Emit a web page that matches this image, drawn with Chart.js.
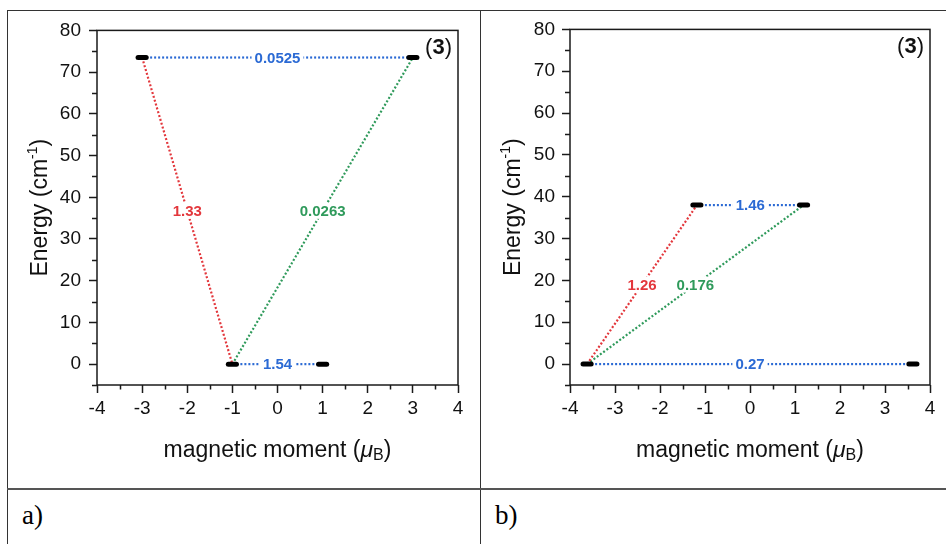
<!DOCTYPE html>
<html>
<head>
  <title>Relaxation barrier (3)</title>
  <script src="https://cdn.jsdelivr.net/npm/chart.js@4"></script>
  <style>
    body { margin: 0; background: #fff; }
    .rule { position: absolute; background: #333; }
    .cap {
      position: absolute;
      font-family: "Liberation Serif", "Times New Roman", serif;
      font-size: 27px;
      line-height: 30px;
      color: #000;
    }
    canvas { position: absolute; }
  </style>
</head>
<body>
  <div class="rule" style="left:7px; top:10px; width:939px; height:1px;"></div>
  <div class="rule" style="left:7px; top:10px; width:1px; height:534px;"></div>
  <div class="rule" style="left:480px; top:10px; width:1px; height:534px;"></div>
  <div class="rule" style="left:7px; top:488px; width:939px; height:2px; background:#555;"></div>
  <div class="cap" style="left:22px; top:500px;">a)</div>
  <div class="cap" style="left:495px; top:500px;">b)</div>

  <canvas id="chartA" width="472" height="477" style="left:8px; top:11px;"></canvas>
  <canvas id="chartB" width="464" height="477" style="left:482px; top:11px;"></canvas>

  <script>
    // axes
    const xTicks = [-4, -3, -2, -1, 0, 1, 2, 3, 4];
    const yTicks = [0, 10, 20, 30, 40, 50, 60, 70, 80];
    const yMin = -5;

    // panel a: doublet levels (moment, energy) and transitions between them
    const aMoment = [-3, 3, -1, 1];
    const aEnergy = [73.5, 73.5, 0, 0];
    const aFrom = [0, 2, 0, 2];
    const aTo = [1, 3, 2, 1];
    const aValue = ['0.0525', '1.54', '1.33', '0.0263'];
    const aKind = ['qtm', 'qtm', 'orbach', 'raman'];

    // panel b
    const bMoment = [-3.62, 3.62, -1.18, 1.19];
    const bEnergy = [0, 0, 38, 38];
    const bFrom = [0, 2, 0, 0];
    const bTo = [1, 3, 2, 3];
    const bValue = ['0.27', '1.46', '1.26', '0.176'];
    const bKind = ['qtm', 'qtm', 'orbach', 'raman'];

    const FONT = '"Liberation Sans", Arial, sans-serif';
    const kindColor = { qtm: '#2b6ad4', orbach: '#e3373c', raman: '#2f9a5b' };
    const BAR_HALF = 0.09;

    // draw a run of text pieces with their own fonts and vertical offsets
    function drawParts(ctx, parts, x, y) {
      ctx.textBaseline = 'middle';
      ctx.textAlign = 'left';
      for (const p of parts) {
        ctx.font = p[1];
        ctx.fillText(p[0], x, y + (p[2] || 0));
        x += ctx.measureText(p[0]).width;
      }
    }
    function partsWidth(ctx, parts) {
      let w = 0;
      for (const p of parts) { ctx.font = p[1]; w += ctx.measureText(p[0]).width; }
      return w;
    }

    function makePanel(id, moment, energy, from, to, value, kind, axisW, padRight, tickPad) {
      const levelSets = moment.map((m, i) => ({
        data: [{ x: m - BAR_HALF, y: energy[i] }, { x: m + BAR_HALF, y: energy[i] }],
        borderColor: '#000', borderWidth: 5, borderCapStyle: 'round',
        showLine: true, pointRadius: 0
      }));
      const transSets = from.map((f, i) => ({
        data: [{ x: moment[f], y: energy[f] }, { x: moment[to[i]], y: energy[to[i]] }],
        borderColor: kindColor[kind[i]], borderWidth: 2.2, borderDash: [2, 2],
        showLine: true, pointRadius: 0
      }));

      const decor = {
        id: 'decor',
        afterDatasetsDraw(chart) {
          const ctx = chart.ctx;
          const xs = chart.scales.x, ys = chart.scales.y;
          ctx.save();
          ctx.font = 'bold 15px ' + FONT;
          ctx.textAlign = 'center';
          ctx.textBaseline = 'middle';
          from.forEach((f, i) => {
            const t = to[i];
            const px = xs.getPixelForValue((moment[f] + moment[t]) / 2);
            const py = ys.getPixelForValue((energy[f] + energy[t]) / 2);
            const w = ctx.measureText(value[i]).width;
            ctx.fillStyle = '#fff';
            ctx.fillRect(px - w / 2 - 3, py - 8, w + 6, 16);
            ctx.fillStyle = kindColor[kind[i]];
            ctx.fillText(value[i], px, py + 1);
          });
          ctx.restore();
        },
        afterDraw(chart) {
          const ctx = chart.ctx;
          const a = chart.chartArea;
          const xs = chart.scales.x, ys = chart.scales.y;
          ctx.save();
          // frame
          ctx.strokeStyle = '#1a1a1a';
          ctx.lineWidth = 1.5;
          ctx.strokeRect(a.left, a.top, a.right - a.left, a.bottom - a.top);
          // minor ticks
          ctx.beginPath();
          xTicks.slice(1).forEach(v => {
            const p = Math.round(xs.getPixelForValue(v - 0.5)) + 0.5;
            ctx.moveTo(p, a.bottom); ctx.lineTo(p, a.bottom + 4.5);
          });
          yTicks.forEach(v => {
            const p = Math.round(ys.getPixelForValue(v - 5)) + 0.5;
            ctx.moveTo(a.left, p); ctx.lineTo(a.left - 5, p);
          });
          ctx.stroke();

          ctx.fillStyle = '#111';
          // x title
          const xParts = [
            ['magnetic moment (', '23px ' + FONT],
            ['\u03bc', 'italic 23px ' + FONT],
            ['B', '16px ' + FONT, 5],
            [')', '23px ' + FONT]
          ];
          const cx = (a.left + a.right) / 2;
          drawParts(ctx, xParts, cx - partsWidth(ctx, xParts) / 2, a.bottom + 66);
          // y title
          const yParts = [
            ['Energy (cm', '23px ' + FONT],
            ['-1', '14px ' + FONT, -8],
            [')', '23px ' + FONT]
          ];
          ctx.save();
          ctx.translate(a.left - 56, (a.top + a.bottom) / 2);
          ctx.rotate(-Math.PI / 2);
          drawParts(ctx, yParts, -partsWidth(ctx, yParts) / 2, 0);
          ctx.restore();
          // compound number
          const cParts = [
            ['(', '22px ' + FONT],
            ['3', 'bold 22px ' + FONT],
            [')', '22px ' + FONT]
          ];
          drawParts(ctx, cParts, a.right - 6 - partsWidth(ctx, cParts), a.top + 18);
          ctx.restore();
        }
      };

      return new Chart(document.getElementById(id), {
        type: 'scatter',
        data: { datasets: [...levelSets, ...transSets] },
        options: {
          responsive: false,
          animation: false,
          devicePixelRatio: 1,
          layout: { padding: { left: 0, right: padRight, top: 13, bottom: 23 } },
          plugins: { legend: { display: false }, tooltip: { enabled: false } },
          scales: {
            x: {
              type: 'linear', min: xTicks[0], max: xTicks[xTicks.length - 1],
              afterBuildTicks: s => { s.ticks = xTicks.map(v => ({ value: v })); },
              afterFit: s => { s.height = 80; },
              border: { display: false },
              grid: { drawOnChartArea: false, drawTicks: true, tickLength: 8, tickColor: '#1a1a1a', tickWidth: 1.5 },
              ticks: { color: '#111', font: { family: FONT, size: 19 }, padding: 4, maxRotation: 0, callback: v => String(v) }
            },
            y: {
              type: 'linear', min: yMin, max: yTicks[yTicks.length - 1],
              afterBuildTicks: s => { s.ticks = yTicks.map(v => ({ value: v })); },
              afterFit: s => { s.width = axisW; },
              border: { display: false },
              grid: { drawOnChartArea: false, drawTicks: true, tickLength: 8, tickColor: '#1a1a1a', tickWidth: 1.5 },
              ticks: { color: '#111', font: { family: FONT, size: 19 }, padding: tickPad, callback: v => String(v) }
            }
          }
        },
        plugins: [decor]
      });
    }

    makePanel('chartA', aMoment, aEnergy, aFrom, aTo, aValue, aKind, 89, 22, 8);
    makePanel('chartB', bMoment, bEnergy, bFrom, bTo, bValue, bKind, 88, 16, 7);
  </script>
</body>
</html>
